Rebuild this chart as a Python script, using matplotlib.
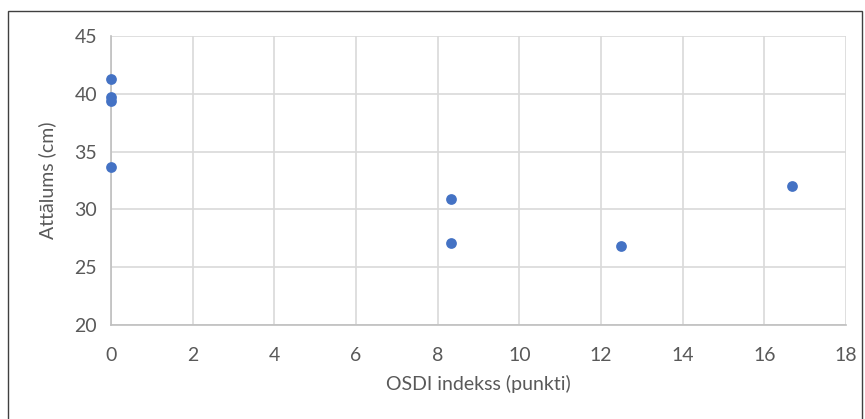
import matplotlib.pyplot as plt
from matplotlib.patches import Rectangle
import numpy as np

# OSDI index vs distance
osdi = [0, 0, 0, 0, 8.33, 8.33, 12.5, 16.67]
distance = [41.3, 39.7, 39.4, 33.7, 30.9, 27.1, 26.8, 32.0]

x_ticks = np.arange(0, 19, 2)
y_ticks = np.arange(20, 46, 5)

text_color = '#595959'
plt.rcParams['font.family'] = ['Lato', 'DejaVu Sans']

fig = plt.figure(figsize=(8.65, 4.19), dpi=100, facecolor='white')
ax = fig.add_axes([111 / 865, 1 - 325 / 419, (846 - 111) / 865, (325 - 36) / 419])

ax.scatter(osdi, distance, s=60, color='#4472C4', zorder=3, linewidths=0, clip_on=False)

ax.set_xlim(0, 18)
ax.set_ylim(20, 45)
ax.set_xticks(x_ticks)
ax.set_yticks(y_ticks)
ax.grid(True, color='#D9D9D9', linewidth=1.2, zorder=0)
ax.set_axisbelow(True)

for side in ['top', 'right']:
    ax.spines[side].set_visible(False)
for side in ['left', 'bottom']:
    ax.spines[side].set_color('#BFBFBF')
    ax.spines[side].set_linewidth(1.2)

ax.tick_params(length=0, labelsize=14, colors=text_color)
ax.tick_params(axis='x', pad=16)
ax.tick_params(axis='y', pad=10)

ax.set_xlabel('OSDI indekss (punkti)', fontsize=14, color=text_color, labelpad=8)
ax.set_ylabel('Attālums (cm)', fontsize=14, color=text_color, labelpad=13)

# border round the chart
fig.patches.append(Rectangle((8 / 865, -2 / 419), 854 / 865, 410 / 419,
                             transform=fig.transFigure, fill=False,
                             edgecolor='#404040', linewidth=1))

fig.savefig('out.png', dpi=100, facecolor='white')
